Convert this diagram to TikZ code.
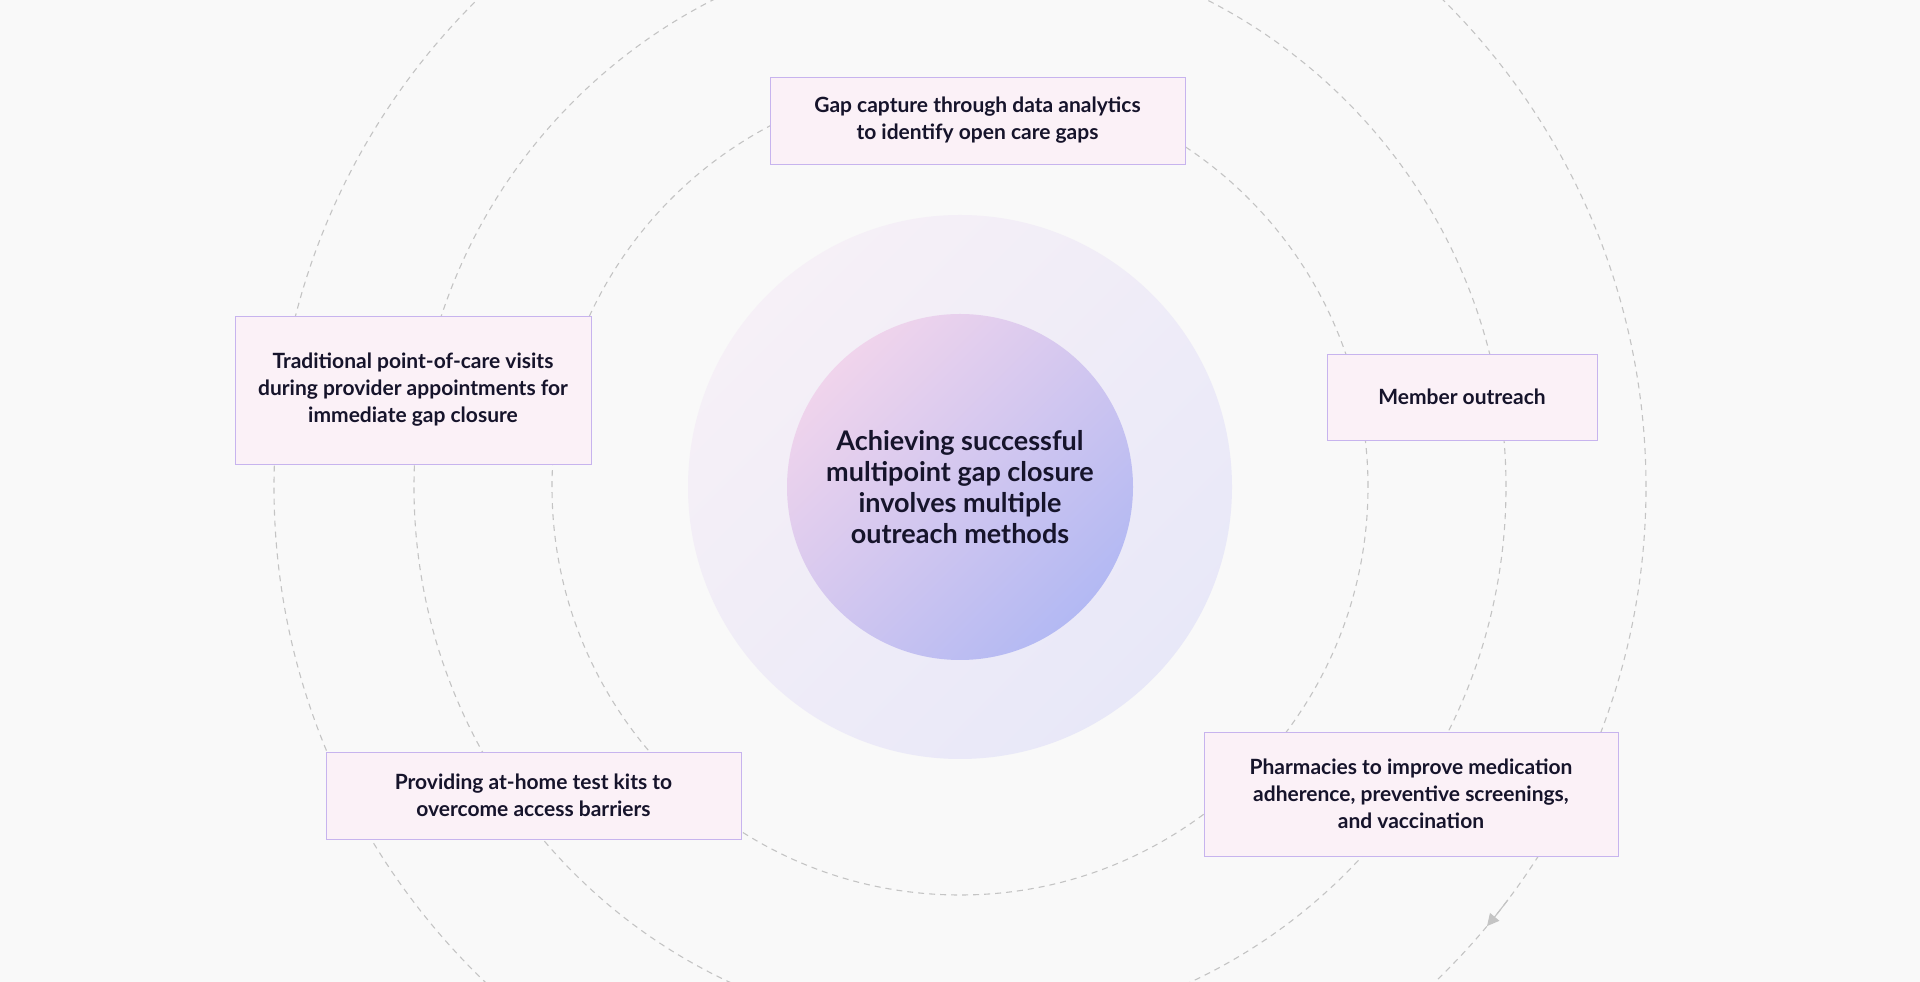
\documentclass[tikz,border=0pt]{standalone}
\usepackage{fontspec}
\setmainfont{Lato}
\usetikzlibrary{arrows.meta}
\definecolor{bg}{HTML}{F9F9F9}
\definecolor{boxfill}{HTML}{FBF1F7}
\definecolor{boxline}{HTML}{C7B4EE}
\definecolor{dashc}{HTML}{C4C4C4}
\definecolor{txt}{HTML}{16142B}
\definecolor{inA}{HTML}{F0D4EC}
\definecolor{inB}{HTML}{B3B9F3}
\definecolor{haA}{HTML}{F6F0F7}
\definecolor{haB}{HTML}{E8E8F8}
\begin{document}
\begin{tikzpicture}[x=1pt,y=1pt,
  ring/.style={draw=dashc,line width=1.1pt,dash pattern=on 6pt off 5pt},
  box/.style={draw=boxline,fill=boxfill,line width=0.8pt,align=center,inner sep=0pt,
    font=\fontsize{21}{27}\selectfont\bfseries,text=txt}]
\useasboundingbox (0,0) rectangle (1920,982);
\fill[bg] (0,0) rectangle (1920,982);
\coordinate (c) at (960,495);
\begin{scope}
\clip (0,0) rectangle (1920,982);
\draw[ring] (c) circle[radius=408];
\draw[ring] (c) circle[radius=546];
\draw[ring] (c) circle[radius=686];
\draw[draw=dashc,line width=1.1pt,-{Triangle[width=12pt,length=12pt]}] ([shift=(-37:686)]c) arc[start angle=-37,end angle=-39.8,radius=686];
\end{scope}
\shade[left color=haA, right color=haB, shading angle=45] (c) circle[radius=272];
\shade[left color=inA, right color=inB, shading angle=45] (c) circle[radius=173];
\node[align=center,text=txt,font=\fontsize{27}{31}\selectfont\bfseries] (center) at (c) {Achieving successful\\multipoint gap closure\\involves multiple\\outreach methods};
\node[box,minimum width=415,minimum height=87] (top) at (977.5,861.5) {Gap capture through data analytics\\to identify open care gaps};
\node[box,minimum width=356,minimum height=148] (left) at (413,592) {Traditional point-of-care visits\\during provider appointments for\\immediate gap closure};
\node[box,minimum width=270,minimum height=86] (member) at (1462,585) {Member outreach};
\node[box,minimum width=415,minimum height=87] (kits) at (533.5,186.5) {Providing at-home test kits to\\overcome access barriers};
\node[box,minimum width=414,minimum height=124] (pharm) at (1411,188) {Pharmacies to improve medication\\adherence, preventive screenings,\\and vaccination};
\end{tikzpicture}
\end{document}
